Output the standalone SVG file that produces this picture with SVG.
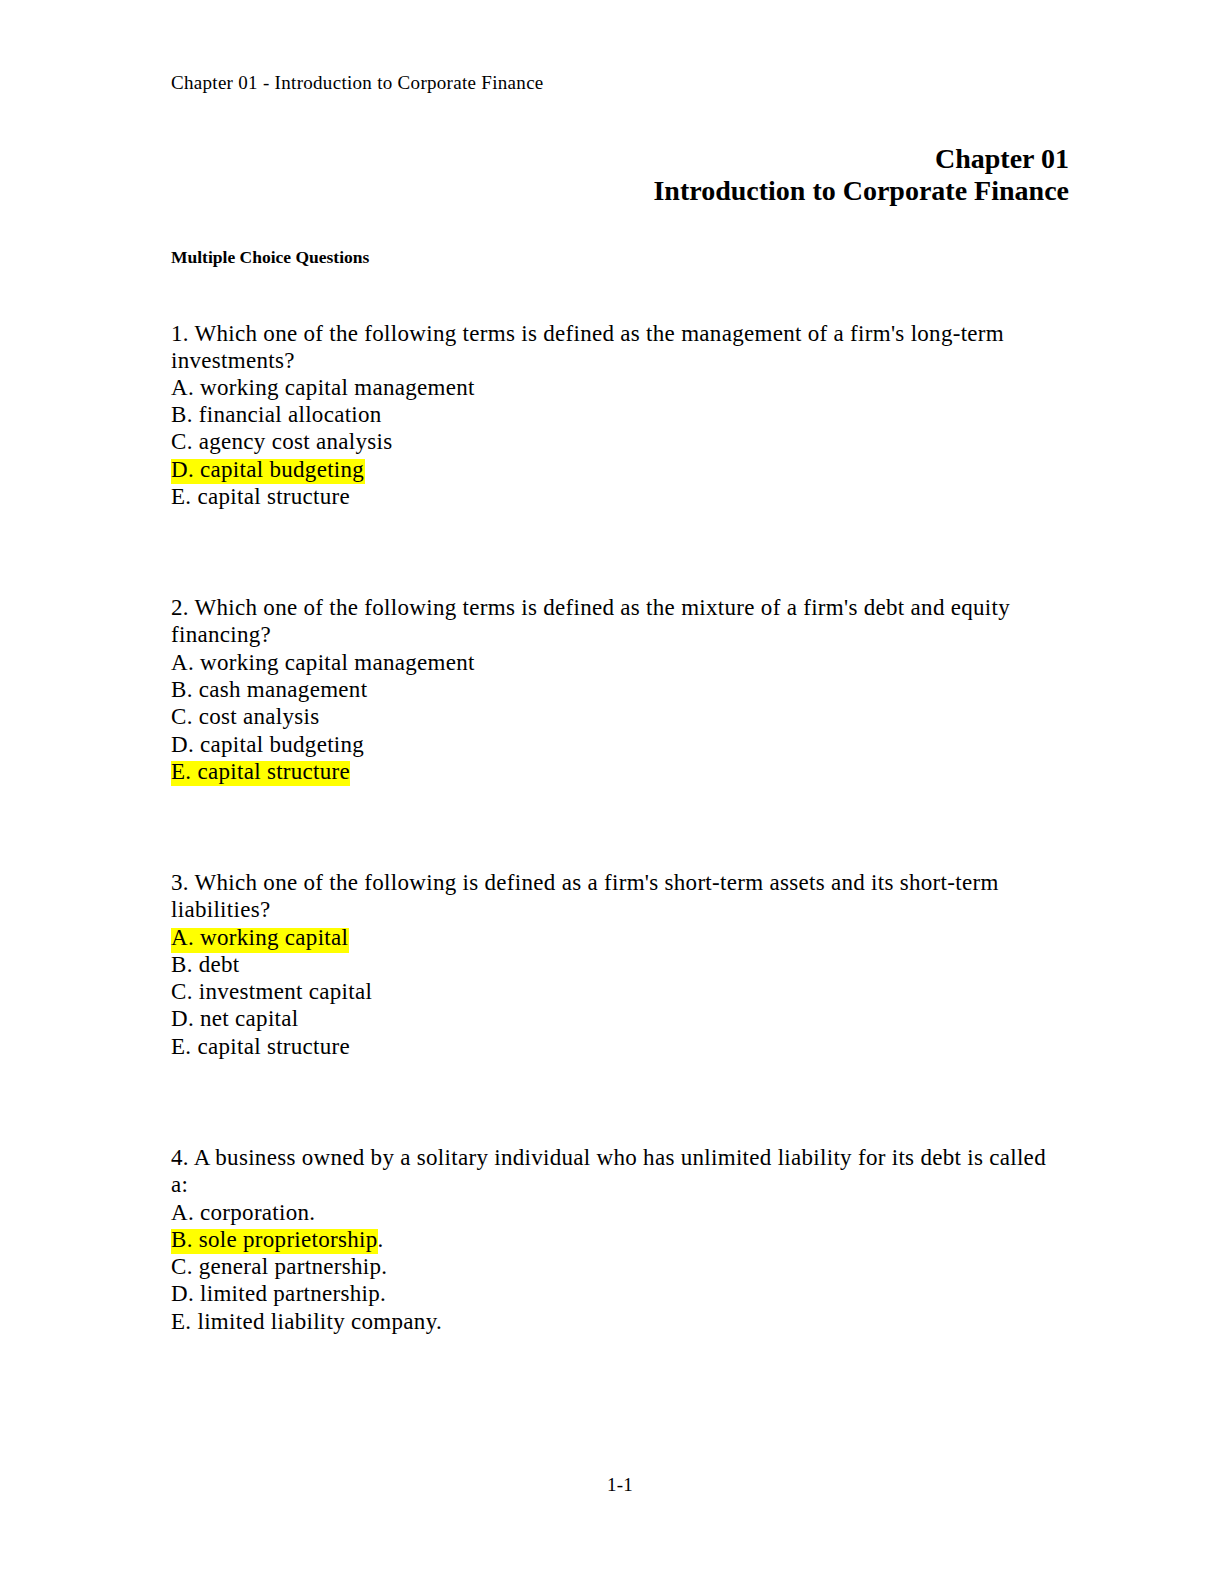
<svg xmlns="http://www.w3.org/2000/svg" width="1224" height="1584" viewBox="0 0 1224 1584">
<style>
text{font-family:"Liberation Serif","Times New Roman",serif;fill:#000}
.b{font-size:23px;letter-spacing:0.3px}
.hd{font-size:19px;letter-spacing:0.3px}
.t{font-size:28px;font-weight:bold;text-anchor:end}
.hl{fill:#ffff00}
</style>
<rect width="1224" height="1584" fill="#fff"/>
<text class="hd" x="171" y="89">Chapter 01 - Introduction to Corporate Finance</text>
<text class="t" x="1069" y="168">Chapter 01</text>
<text class="t" x="1069" y="200">Introduction to Corporate Finance</text>
<text x="171" y="263" style="font-size:17.5px;font-weight:bold">Multiple Choice Questions</text>
<rect class="hl" x="171" y="459" width="194" height="25"/>
<rect class="hl" x="171" y="761" width="179" height="25"/>
<rect class="hl" x="171" y="928" width="178" height="25"/>
<rect class="hl" x="171" y="1229" width="207" height="25"/>
<g>
<text class="b" x="171" y="341">1. Which one of the following terms is defined as the management of a firm's long-term</text>
<text class="b" x="171" y="368">investments?</text>
<text class="b" x="171" y="395">A. working capital management</text>
<text class="b" x="171" y="422">B. financial allocation</text>
<text class="b" x="171" y="449">C. agency cost analysis</text>
<text class="b" x="171" y="477">D. capital budgeting</text>
<text class="b" x="171" y="504">E. capital structure</text>
<text class="b" x="171" y="615">2. Which one of the following terms is defined as the mixture of a firm's debt and equity</text>
<text class="b" x="171" y="642">financing?</text>
<text class="b" x="171" y="670">A. working capital management</text>
<text class="b" x="171" y="697">B. cash management</text>
<text class="b" x="171" y="724">C. cost analysis</text>
<text class="b" x="171" y="752">D. capital budgeting</text>
<text class="b" x="171" y="779">E. capital structure</text>
<text class="b" x="171" y="890">3. Which one of the following is defined as a firm's short-term assets and its short-term</text>
<text class="b" x="171" y="917">liabilities?</text>
<text class="b" x="171" y="945">A. working capital</text>
<text class="b" x="171" y="972">B. debt</text>
<text class="b" x="171" y="999">C. investment capital</text>
<text class="b" x="171" y="1026">D. net capital</text>
<text class="b" x="171" y="1054">E. capital structure</text>
<text class="b" x="171" y="1165">4. A business owned by a solitary individual who has unlimited liability for its debt is called</text>
<text class="b" x="171" y="1192">a:</text>
<text class="b" x="171" y="1220">A. corporation.</text>
<text class="b" x="171" y="1247">B. sole proprietorship.</text>
<text class="b" x="171" y="1274">C. general partnership.</text>
<text class="b" x="171" y="1301">D. limited partnership.</text>
<text class="b" x="171" y="1329">E. limited liability company.</text>
</g>
<text class="hd" x="620" y="1491" text-anchor="middle">1-1</text>
</svg>
